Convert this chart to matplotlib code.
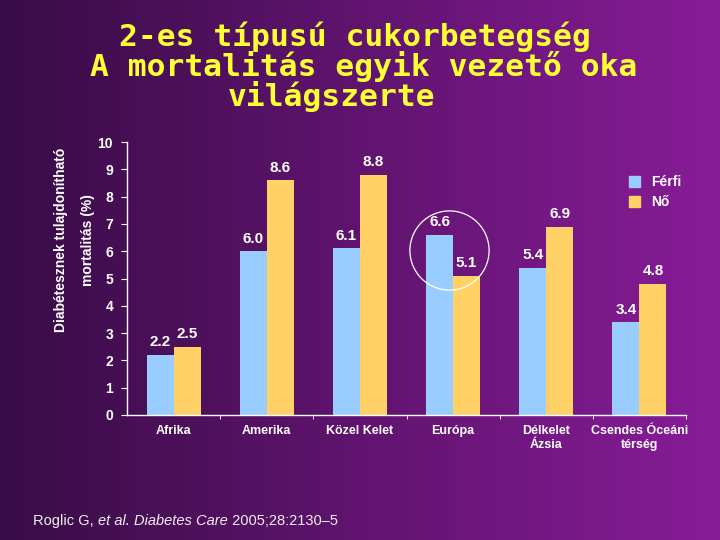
import numpy as np
import matplotlib
matplotlib.use("Agg")
import matplotlib.pyplot as plt
from matplotlib.patches import Patch

regions = ["Afrika", "Amerika", "Közel Kelet", "Európa", "Délkelet\nÁzsia", "Csendes Óceáni\ntérség"]
ferfi = [2.2, 6.0, 6.1, 6.6, 5.4, 3.4]
no = [2.5, 8.6, 8.8, 5.1, 6.9, 4.8]
yticks = list(range(0, 11))

title_lines = ["2-es típusú cukorbetegség", "A mortalitás egyik vezető oka", "világszerte"]
ylabel_lines = ["Diabétesznek tulajdonítható", "mortalitás (%)"]

blue = "#99CCFF"
yellow = "#FFD166"
white = "white"
font = ["Liberation Sans Narrow", "Liberation Sans", "DejaVu Sans"]

fig = plt.figure(figsize=(7.2, 5.4), dpi=100)

# background gradient, dark purple -> magenta
bg = fig.add_axes([0, 0, 1, 1], zorder=-10)
grad = np.linspace(0, 1, 256)
c0 = np.array([0x38, 0x0c, 0x46]) / 255
c1 = np.array([0x88, 0x1c, 0x98]) / 255
img = c0[None, :] + (c1 - c0)[None, :] * grad[:, None]
bg.imshow(img[None, :, :], aspect="auto", extent=[0, 1, 0, 1])
bg.set_axis_off()

ax = fig.add_axes([127 / 720, 1 - 415 / 540, (686 - 127) / 720, (415 - 142) / 540])
ax.patch.set_alpha(0)

x = np.arange(len(regions))
w = 0.29
b1 = ax.bar(x - w / 2, ferfi, w, color=blue, label="Férfi")
b2 = ax.bar(x + w / 2, no, w, color=yellow, label="Nő")

for bars, vals in ((b1, ferfi), (b2, no)):
    for r, v in zip(bars, vals):
        ax.annotate(f"{v:.1f}", (r.get_x() + r.get_width() / 2, v), xytext=(0, 4),
                    textcoords="offset points", ha="center", va="bottom",
                    color=white, fontsize=11, fontweight="bold", family=font)

# circle around Europe
ax.plot([3 - 0.04], [6.05], marker="o", markersize=57, markerfacecolor="none",
        markeredgecolor=white, markeredgewidth=0.9, clip_on=False)

ax.set_xlim(-0.5, 5.5)
ax.set_ylim(0, 10)
ax.set_yticks(yticks)
ax.set_yticklabels([str(t) for t in yticks], color=white, fontsize=10,
                   fontweight="bold", family=font)
ax.set_xticks(x)
ax.set_xticklabels(regions, color=white, fontsize=9, fontweight="bold",
                   family=font, linespacing=1.25)
ax.set_xticks(np.arange(0.5, 6, 1), minor=True)
ax.tick_params(axis="x", which="major", length=0, pad=7)
ax.tick_params(axis="x", which="minor", length=3, color=white, direction="out")
ax.tick_params(axis="y", length=4, color=white, direction="out", pad=6)
for s in ["top", "right"]:
    ax.spines[s].set_visible(False)
for s in ["left", "bottom"]:
    ax.spines[s].set_color(white)
    ax.spines[s].set_linewidth(1)

# y label, two rotated lines
for line, lx in zip(ylabel_lines, (61, 88)):
    fig.text(lx / 720, 1 - 240 / 540, line, rotation=90, ha="center", va="center",
             color=white, fontsize=10, fontweight="bold", family=font)

handles = [Patch(color=blue, label="Férfi"), Patch(color=yellow, label="Nő")]
leg = ax.legend(handles=handles, loc="upper left", bbox_to_anchor=(616 / 720, 1 - 163 / 540),
                bbox_transform=fig.transFigure, frameon=False, handlelength=0.8,
                handleheight=0.8, handletextpad=0.8, labelspacing=0.4,
                prop={"family": font, "weight": "bold", "size": 10})
for t in leg.get_texts():
    t.set_color(white)

# title
tcent = [(355, 37), (364, 67), (332, 96)]
for line, (cx, cy) in zip(title_lines, tcent):
    fig.text(cx / 720, 1 - cy / 540, line, ha="center", va="center", color="#FFFF33",
             fontsize=22.5, fontweight="bold", family="DejaVu Sans Mono")

# citation, pieces with italics
pieces = [("Roglic G, ", "normal"), ("et al. ", "italic"), ("Diabetes Care", "italic"),
          (" 2005;28:2130–5", "normal")]
fig.canvas.draw()
r = fig.canvas.get_renderer()
xpos = 33
for txt, style in pieces:
    t = fig.text(xpos / 720, 1 - 521 / 540, txt, ha="left", va="center", color="#f0f0f0",
                 fontsize=10.5, style=style, family=["Liberation Sans", "DejaVu Sans"])
    bb = t.get_window_extent(renderer=r)
    xpos += bb.width

fig.savefig("out.png", dpi=100)
